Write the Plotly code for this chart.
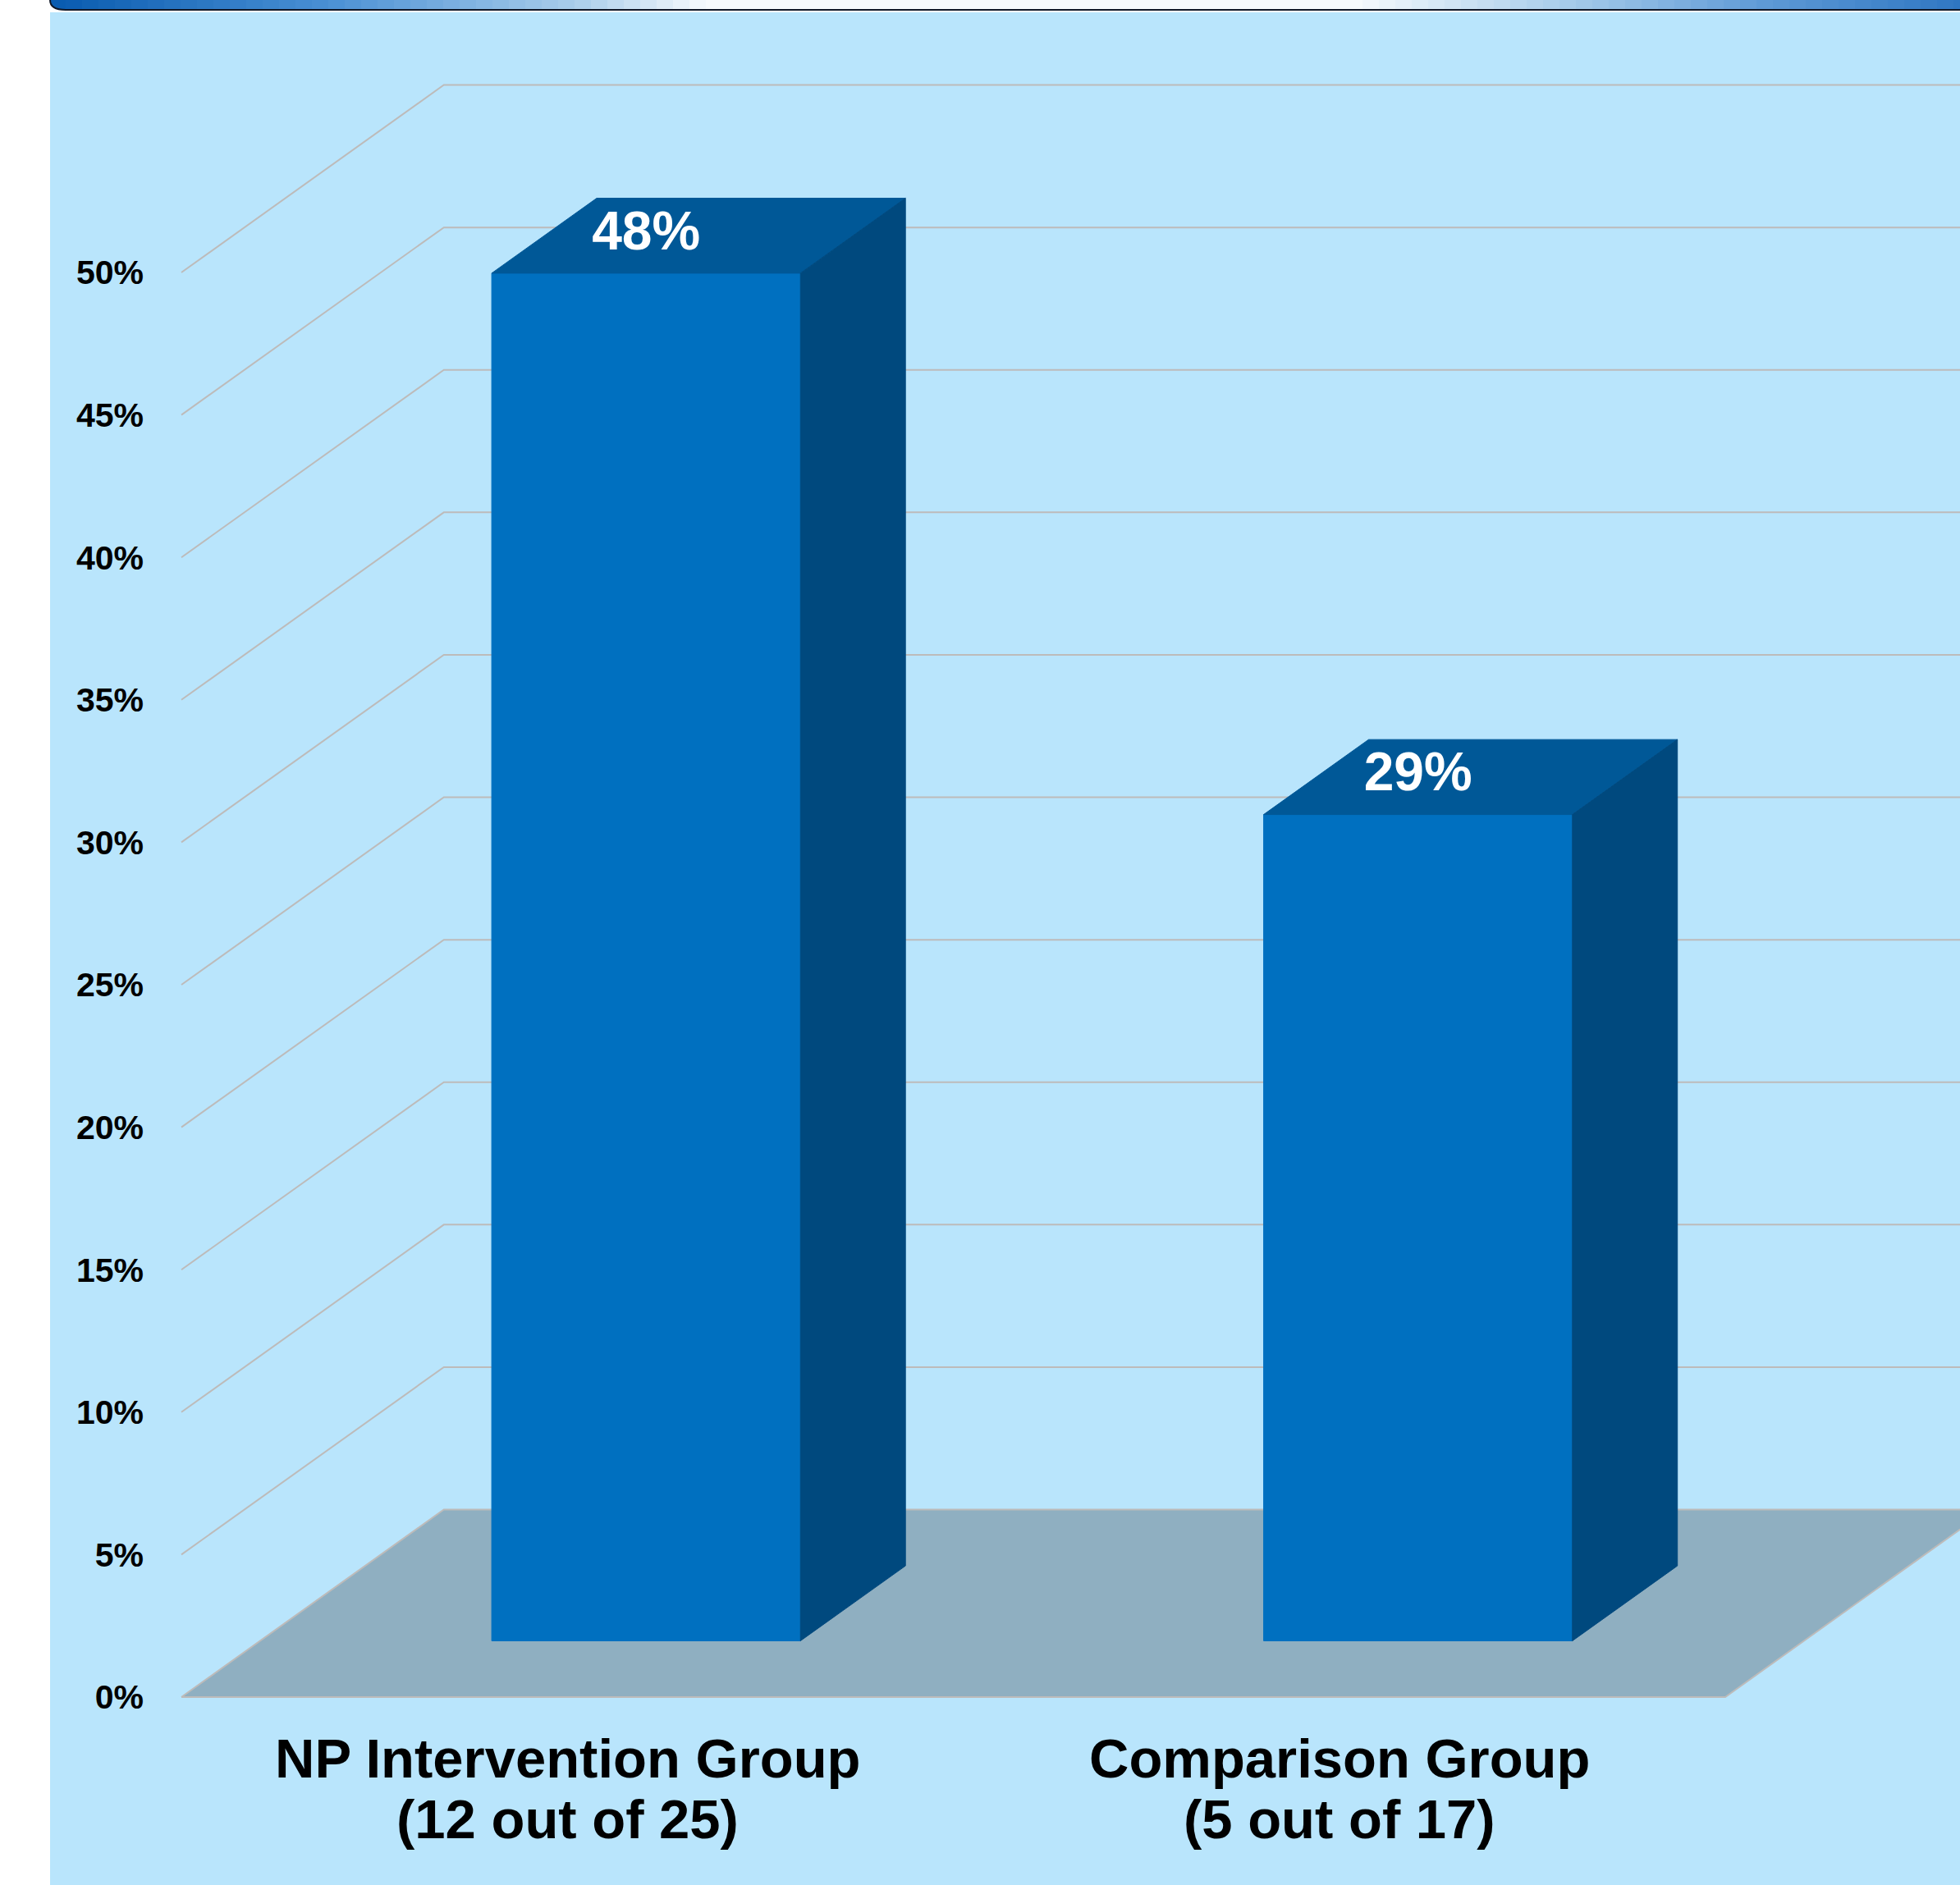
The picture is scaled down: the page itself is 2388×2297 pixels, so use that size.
import plotly.graph_objects as go

# ---------------- data ----------------
categories = ["NP Intervention Group", "Comparison Group"]
subtitles = ["(12 out of 25)", "(5 out of 17)"]
values = [48, 29]
tick_values = [0, 5, 10, 15, 20, 25, 30, 35, 40, 45, 50]
tick_labels = [f"{t}%" for t in tick_values]
value_labels = [f"{v}%" for v in values]

# ---------------- projection / layout constants ----------------
DX, DY = 0.34, 6.58        # depth offset of the 3-D box (x in category units, y in % units)
Z0, Z1 = 0.3, 0.7          # depth extent of each bar
BW = 0.4                   # bar width (category units)

W, H = 2388, 2297
PL, PR, PT, PB = 200, 2388, 15, 2100      # plot area in pixels
X0PX, XUNIT = 221, 940.5                  # pixel of x=0 and px per category
Y0PX, YUNIT = 2068, 34.72                 # pixel of y=0 and px per percent
x_range = [(PL - X0PX) / XUNIT, (PR - X0PX) / XUNIT]
y_range = [(Y0PX - PB) / YUNIT, (Y0PX - PT) / YUNIT]

FONT = "Liberation Sans, Arial, sans-serif"
BG = "#B9E5FC"
GRID = "#BDBBBA"
FLOOR = "#8FAFC1"
FRONT = "#0070C0"
TOP = "#005897"
SIDE = "#00497E"


def px2paper_x(px):
    return (px - PL) / (PR - PL)


def px2paper_y(py):
    return (PB - py) / (PB - PT)


fig = go.Figure()
n = len(categories)

# gridlines (left wall diagonals + back wall horizontals)
gx, gy = [], []
for t in tick_values[1:]:
    gx += [0, DX, n + DX, None]
    gy += [t, t + DY, t + DY, None]
fig.add_trace(go.Scatter(x=gx, y=gy, mode="lines", line=dict(color=GRID, width=2),
                         hoverinfo="skip", showlegend=False))

# floor
fig.add_trace(go.Scatter(x=[0, n, n + DX, DX, 0], y=[0, 0, DY, DY, 0], mode="lines",
                         fill="toself", fillcolor=FLOOR, line=dict(color=GRID, width=2),
                         hoverinfo="skip", showlegend=False))

# bars
for i, v in enumerate(values):
    c = i + 0.5
    xl, xr = c - BW / 2, c + BW / 2
    faces = [
        ([xl + Z0 * DX, xr + Z0 * DX, xr + Z0 * DX, xl + Z0 * DX, xl + Z0 * DX],
         [Z0 * DY, Z0 * DY, v + Z0 * DY, v + Z0 * DY, Z0 * DY], FRONT),
        ([xl + Z0 * DX, xr + Z0 * DX, xr + Z1 * DX, xl + Z1 * DX, xl + Z0 * DX],
         [v + Z0 * DY, v + Z0 * DY, v + Z1 * DY, v + Z1 * DY, v + Z0 * DY], TOP),
        ([xr + Z0 * DX, xr + Z1 * DX, xr + Z1 * DX, xr + Z0 * DX, xr + Z0 * DX],
         [Z0 * DY, Z1 * DY, v + Z1 * DY, v + Z0 * DY, Z0 * DY], SIDE),
    ]
    for fx, fy, col in faces:
        fig.add_trace(go.Scatter(x=fx, y=fy, mode="lines", fill="toself", fillcolor=col,
                                 line=dict(color=col, width=1), hoverinfo="skip",
                                 showlegend=False))

# value labels on top faces
fig.add_trace(go.Scatter(
    x=[i + 0.5 + Z0 * DX for i in range(n)],
    y=[v + (Z0 + Z1) / 2 * DY for v in values],
    mode="text", text=value_labels, textposition="middle center",
    textfont=dict(family=FONT, size=66, color="white", weight="bold"),
    hoverinfo="skip", showlegend=False, cliponaxis=False))

# category labels (two lines)
annotations = []
for i, (cat, sub) in enumerate(zip(categories, subtitles)):
    annotations.append(dict(x=i + 0.5, y=0, xref="x", yref="y", text=cat, showarrow=False,
                            yanchor="middle", yshift=-74,
                            font=dict(family=FONT, size=67, color="black", weight="bold")))
    annotations.append(dict(x=i + 0.5, y=0, xref="x", yref="y", text=sub, showarrow=False,
                            yanchor="middle", yshift=-148,
                            font=dict(family=FONT, size=67, color="black", weight="bold")))

# decorations: panel + banner
shapes = [dict(type="rect", xref="paper", yref="paper", layer="below",
               x0=px2paper_x(61), x1=px2paper_x(W), y0=px2paper_y(H), y1=px2paper_y(15),
               fillcolor=BG, line=dict(width=0))]

stops = [(75, (10, 92, 176)), (400, (74, 144, 212)), (700, (169, 205, 235)),
         (860, (246, 250, 253)), (1650, (246, 250, 253)), (1900, (169, 205, 235)),
         (2150, (94, 154, 214)), (2388, (47, 118, 194))]


def grad(px):
    for (a, ca), (b, cb) in zip(stops[:-1], stops[1:]):
        if a <= px <= b:
            f = (px - a) / (b - a)
            return "rgb(%d,%d,%d)" % tuple(round(ca[k] + f * (cb[k] - ca[k])) for k in range(3))
    return "rgb(%d,%d,%d)" % stops[-1][1]


ax_, ay0, ay1 = 61, 0, 12
shapes.append(dict(type="path", xref="paper", yref="paper", layer="above",
                   path=f"M {px2paper_x(ax_)},{px2paper_y(ay0)} Q {px2paper_x(ax_)},{px2paper_y(ay1)} "
                        f"{px2paper_x(80)},{px2paper_y(ay1)} L {px2paper_x(80)},{px2paper_y(ay0)} Z",
                   fillcolor=grad(75), line=dict(width=0)))
step = 20
for a in range(80, W, step):
    b = min(a + step + 1, W)
    shapes.append(dict(type="rect", xref="paper", yref="paper", layer="above",
                       x0=px2paper_x(a), x1=px2paper_x(b), y0=px2paper_y(ay1), y1=px2paper_y(ay0),
                       fillcolor=grad(a + step / 2), line=dict(width=0)))
shapes.append(dict(type="path", xref="paper", yref="paper", layer="above",
                   path=f"M {px2paper_x(ax_)},{px2paper_y(ay0)} Q {px2paper_x(ax_)},{px2paper_y(ay1)} "
                        f"{px2paper_x(80)},{px2paper_y(ay1)} L {px2paper_x(W)},{px2paper_y(ay1)}",
                   line=dict(color="#101828", width=2)))

fig.update_layout(
    width=W, height=H,
    margin=dict(l=PL, r=W - PR, t=PT, b=H - PB, pad=0),
    paper_bgcolor="white", plot_bgcolor="rgba(0,0,0,0)",
    showlegend=False,
    xaxis=dict(range=x_range, showgrid=False, zeroline=False, showline=False,
               showticklabels=False, ticks="", fixedrange=True),
    yaxis=dict(range=y_range, showgrid=False, zeroline=False, showline=False,
               tickvals=tick_values, ticktext=tick_labels, ticks="",
               ticklabelstandoff=24,
               tickfont=dict(family=FONT, size=41, color="black", weight="bold"),
               fixedrange=True),
    shapes=shapes,
    annotations=annotations,
)

fig.write_html("out.html", config={"displayModeBar": False},
               post_script="document.body.style.margin='0';")
